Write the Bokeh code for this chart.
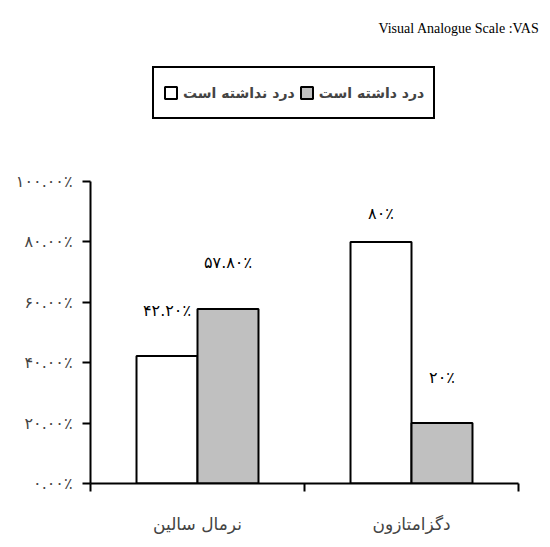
import numpy as np
from bokeh.plotting import figure
from bokeh.models import (ColumnDataSource, FixedTicker, LinearAxis, Range1d, Label,
                          Legend, LegendItem)
from bokeh.transform import dodge
from bokeh.core.properties import value
from bokeh.embed import file_html
from bokeh.resources import INLINE

# ---- data ----
categories = ["نرمال سالین", "دگزامتازون"]
no_pain = [42.2, 80.0]        # درد نداشته است (white bars)
had_pain = [57.8, 20.0]       # درد داشته است (grey bars)
no_pain_labels = ["۴۲.۲۰٪", "۸۰٪"]
had_pain_labels = ["۵۷.۸۰٪", "۲۰٪"]
series_names = ["درد نداشته است", "درد داشته است"]
y_ticks = [0, 20, 40, 60, 80, 100]
y_tick_labels = ["۰.۰۰٪", "۲۰.۰۰٪", "۴۰.۰۰٪", "۶۰.۰۰٪", "۸۰.۰۰٪", "۱۰۰.۰۰٪"]
title_text = "Visual Analogue Scale :VAS"

# ---- styles / layout ----
FA_FONT = "DejaVu Sans"
no_pain_label_offset = [-46, -28]
had_pain_label_offset = [-46, -46]
bw = 0.285
W, H = 540, 540
LEFT, BOTTOM = 90, 57
AXIS_TOP_PX = 181          # screen y where 100% sits
AXIS_RIGHT_PX = 518        # screen x where the x axis ends
frame_h = H - BOTTOM
frame_w = W - LEFT
n = len(categories)
y_top = y_ticks[-1] * frame_h / (frame_h - AXIS_TOP_PX)
x_right = n * frame_w / (AXIS_RIGHT_PX - LEFT)

src = ColumnDataSource(dict(
    x=np.arange(n) + 0.5,
    no_pain=no_pain, had_pain=had_pain,
    nl=no_pain_labels, hl=had_pain_labels,
    noff=no_pain_label_offset, hoff=had_pain_label_offset,
))

p = figure(width=W, height=H, x_range=Range1d(0, x_right), y_range=Range1d(0, y_top),
           output_backend="svg", toolbar_location=None,
           x_axis_location=None, y_axis_location=None,
           min_border_left=LEFT, min_border_right=0, min_border_top=0,
           min_border_bottom=BOTTOM)
p.outline_line_color = None
p.xgrid.visible = False
p.ygrid.visible = False
p.background_fill_color = "white"
p.border_fill_color = "white"

r1 = p.vbar(x=dodge("x", -bw / 2), top="no_pain", width=bw, bottom=0, source=src,
            fill_color="white", line_color="black", line_width=2)
r2 = p.vbar(x=dodge("x", bw / 2), top="had_pain", width=bw, bottom=0, source=src,
            fill_color="#C0C0C0", line_color="black", line_width=2)

p.text(x=dodge("x", -bw / 2), y="no_pain", text="nl", y_offset="noff", source=src,
       text_align="center", text_baseline="middle", text_font=value(FA_FONT),
       text_font_size="16px", text_color="black")
p.text(x=dodge("x", bw / 2), y="had_pain", text="hl", y_offset="hoff", source=src,
       text_align="center", text_baseline="middle", text_font=value(FA_FONT),
       text_font_size="16px", text_color="black")

# y axis
yaxis = LinearAxis(ticker=FixedTicker(ticks=y_ticks), bounds=(y_ticks[0], y_ticks[-1]),
                   major_label_overrides={t: s for t, s in zip(y_ticks, y_tick_labels)})
yaxis.axis_line_width = 2
yaxis.major_tick_line_width = 2
yaxis.major_tick_in = 0
yaxis.major_tick_out = 8
yaxis.minor_tick_line_color = None
yaxis.major_label_standoff = 10
yaxis.major_label_text_font = FA_FONT
yaxis.major_label_text_font_size = "16px"
p.add_layout(yaxis, "left")

# x axis with category boundary ticks
bounds = list(range(n + 1))
xaxis = LinearAxis(ticker=FixedTicker(ticks=bounds), bounds=(0, n),
                   major_label_overrides={b: "" for b in bounds})
xaxis.axis_line_width = 2
xaxis.major_tick_line_width = 2
xaxis.major_tick_in = 0
xaxis.major_tick_out = 8
xaxis.minor_tick_line_color = None
xaxis.major_label_standoff = 0
xaxis.major_label_text_font_size = "1px"
p.add_layout(xaxis, "below")

# category labels axis
centers = [i + 0.5 for i in range(n)]
caxis = LinearAxis(ticker=FixedTicker(ticks=centers),
                   major_label_overrides={c: s for c, s in zip(centers, categories)})
caxis.axis_line_color = None
caxis.major_tick_line_color = None
caxis.minor_tick_line_color = None
caxis.major_label_standoff = 16
caxis.major_label_text_font = FA_FONT
caxis.major_label_text_font_size = "17px"
p.add_layout(caxis, "below")

legend = Legend(items=[LegendItem(label=series_names[0], renderers=[r1]),
                       LegendItem(label=series_names[1], renderers=[r2])],
                orientation="horizontal", location=(62, 364))
legend.border_line_color = "black"
legend.border_line_alpha = 1
legend.border_line_width = 2
legend.padding = 9
legend.label_height = 31
legend.spacing = 4
legend.margin = 0
legend.glyph_width = 15
legend.glyph_height = 15
legend.label_standoff = 5
legend.label_text_font = FA_FONT
legend.label_text_font_style = "bold"
legend.label_text_font_size = "14px"
legend.background_fill_color = "white"
legend.background_fill_alpha = 1
p.add_layout(legend, "center")

title = Label(x=frame_w - 1, y=frame_h - 28, x_units="screen", y_units="screen",
              text=title_text, text_align="right", text_baseline="middle",
              text_font="Liberation Serif", text_font_size="14px", text_color="black")
p.add_layout(title)

open("out.html", "w").write(file_html(p, INLINE))
